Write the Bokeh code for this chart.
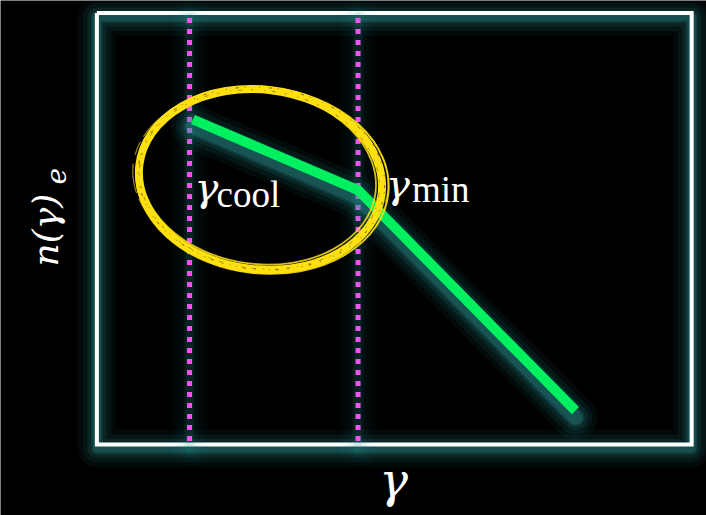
import math
from bokeh.plotting import figure
from bokeh.models import Range1d
from bokeh.core.properties import value
from bokeh.embed import file_html
from bokeh.resources import INLINE

# Axes box of the sketch, in (log10 gamma, log10 n) units
box_x = [1.45, 4.98]
box_y = [-8.61, 2.82]

# Break Lorentz factors (log10 gamma)
log_gamma_cool = 2.0
log_gamma_min = 3.0

# Electron spectrum: broken power law
spec_log_gamma = [2.02, 3.0, 4.29]
spec_log_n = [0.0, -1.87, -7.71]

# Highlight ellipse around the cooling break
ring_center = (2.421, -1.589)
ring_size = (1.448, 4.767)
ring_angle = -0.12

W, H = 706, 515
x_range = Range1d(0.878, 5.068)
y_range = Range1d(-10.487, 3.151)

p = figure(width=W, height=H, x_range=x_range, y_range=y_range,
           output_backend="svg", toolbar_location=None,
           x_axis_location=None, y_axis_location=None, min_border=0)
p.background_fill_color = "black"
p.border_fill_color = "black"
p.outline_line_color = None
p.grid.visible = False

GLOW = "#2f9a9a"
px_x = (x_range.end - x_range.start) / W
px_y = (y_range.end - y_range.start) / H


def glow(xs, ys, width, strength=1.0, drop_px=4, join="round"):
    drop = drop_px * px_y
    for extra, a in [(34, 0.05), (24, 0.07), (15, 0.10), (8, 0.14), (4, 0.2)]:
        p.line(xs, [y - drop for y in ys], line_width=width + extra,
               line_color=GLOW, line_alpha=a * strength,
               line_join=join, line_cap="round")


# frame
fx = [box_x[0], box_x[1], box_x[1], box_x[0], box_x[0]]
fy = [box_y[1], box_y[1], box_y[0], box_y[0], box_y[1]]
glow(fx, fy, 4, 1.2)
p.line(fx, fy, line_color="white", line_width=4, line_join="miter")

# break markers
for xb in (log_gamma_cool, log_gamma_min):
    glow([xb, xb], box_y, 3, 0.45)
p.segment(x0=[log_gamma_cool, log_gamma_min], y0=[box_y[1] - 5 * px_y] * 2,
          x1=[log_gamma_cool, log_gamma_min], y1=[box_y[0]] * 2,
          line_color="#f453f2", line_width=5, line_dash="5 6")

# spectrum
glow(spec_log_gamma, spec_log_n, 10, 1.3, drop_px=7)
p.line(spec_log_gamma, spec_log_n, line_color="#00f060", line_width=10,
       line_join="miter", line_cap="butt")

# hand-drawn ring
cx, cy = ring_center
rw, rh = ring_size
YELLOW = "#ffe010"
p.ellipse(x=[cx], y=[cy], width=[rw], height=[rh], angle=ring_angle,
          fill_color=None, line_color=YELLOW, line_width=8)
for dx, dy, sw, sh, da, lw, col, al, dash in [
    (2, -1, 9, 6, 0.02, 2.0, YELLOW, 0.9, "solid"),
    (-2, 2, -8, -7, -0.015, 1.8, YELLOW, 0.85, "solid"),
    (0, 2, 12, -3, 0.03, 1.2, YELLOW, 0.6, "14 6 30 9"),
    (1, 1, 3, 2, 0.01, 1.0, "black", 0.55, "1 9 3 6 1 13"),
    (-1, 0, -3, -2, -0.01, 0.8, "black", 0.45, "2 11 1 7 4 9"),
]:
    p.ellipse(x=[cx + dx * px_x], y=[cy + dy * px_y],
              width=[rw + sw * px_x], height=[rh + sh * px_y],
              angle=ring_angle + da, fill_color=None,
              line_color=col, line_alpha=al, line_width=lw, line_dash=dash)

SERIF = value("Liberation Serif")
GREEK = value("DejaVu Serif")


def put(x, y, s, size, font=SERIF, italic=False, angle=0.0, align="left"):
    p.text(x=[x], y=[y], text=[s], text_font=font,
           text_font_size=f"{size}px",
           text_font_style="italic" if italic else "normal",
           text_color="white", text_align=align,
           text_baseline="alphabetic", angle=angle)


# break labels
put(log_gamma_cool + 5 * px_x, -1.80, "γ", 40, font=GREEK, italic=True)
put(log_gamma_cool + 27 * px_x, -1.99, "cool", 37)
put(log_gamma_min + 28 * px_x, -1.72, "γ", 40, font=GREEK, italic=True)
put(log_gamma_min + 54 * px_x, -1.86, "min", 37)

# axis labels
put(3.211, -9.55, "γ", 48, font=GREEK, italic=True, align="center")
put(1.1454, -3.893, "n(γ)", 36, font=GREEK, italic=True, angle=math.pi / 2)
put(1.2047, -1.72, "e", 28, font=GREEK, italic=True, angle=math.pi / 2)

open("out.html", "w").write(file_html(p, INLINE))
